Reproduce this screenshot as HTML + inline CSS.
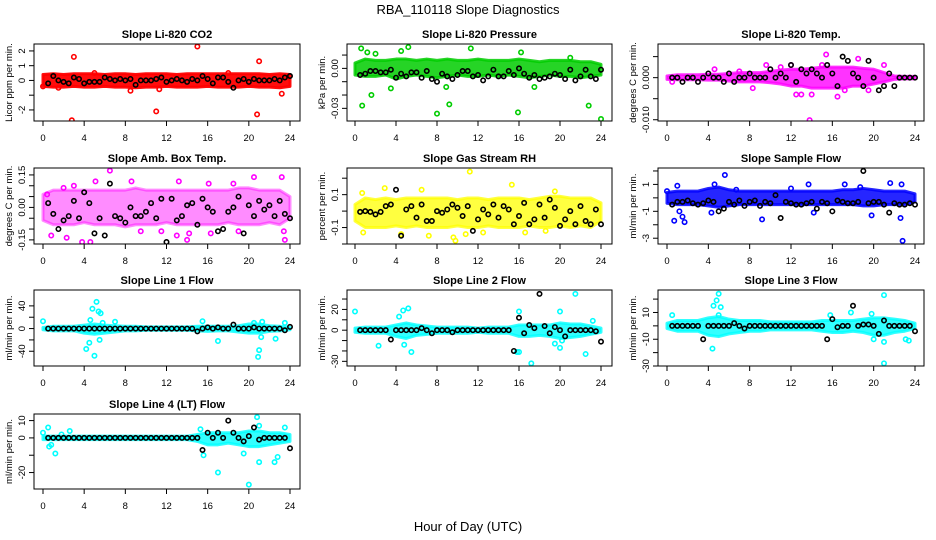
<!DOCTYPE html>
<html><head><meta charset="utf-8"><style>
body{margin:0;background:#fff}
svg{display:block;font-family:"Liberation Sans",sans-serif}
</style></head><body>
<svg id="chart" width="936" height="540" viewBox="0 0 936 540">
<text x="468" y="14" text-anchor="middle" font-size="13">RBA_110118  Slope Diagnostics</text>
<text x="468" y="531" text-anchor="middle" font-size="13">Hour of Day (UTC)</text>
</svg>
<script>
// ---- data ----
const xTicks = [0,4,8,12,16,20,24];
const titles = ["Slope Li-820 CO2","Slope Li-820 Pressure","Slope Li-820 Temp.","Slope Amb. Box Temp.","Slope Gas Stream RH","Slope Sample Flow","Slope Line 1 Flow","Slope Line 2 Flow","Slope Line 3 Flow","Slope Line 4 (LT) Flow"];
const yTitles = ["Licor ppm per min.","kPa per min.","degrees C per min.","degrees C per min.","percent per min.","ml/min per min.","ml/min per min.","ml/min per min.","ml/min per min.","ml/min per min."];
const colors = ["#ff0000","#00cd00","#ff00ff","#ff00ff","#ffff00","#0000ff","#00ffff","#00ffff","#00ffff","#00ffff"];
const yRanges = [[-2.75,2.47],[-0.0395,0.0183],[-0.0103,0.008],[-0.169,0.182],[-0.2,0.262],[-3.43,2.22],[-66,68],[-34.5,38.7],[-30,26.8],[-29.5,13.8]];
const yTickVals = [[-2,-1,0,1,2],[-0.03,-0.02,-0.01,0,0.01],[-0.01,-0.005,0,0.005],[-0.15,-0.1,-0.05,0,0.05,0.1,0.15],[-0.2,-0.1,0,0.1,0.2],[-3,-2,-1,0,1,2],[-40,-20,0,20,40],[-30,-20,-10,0,10,20,30],[-30,-20,-10,0,10,20],[-20,-10,0,10]];
const yTickLabels = [["-2","","0","1","2"],["-0.03","","","0.00",""],["-0.010","","0.000",""],["-0.15","","","0.00","","","0.15"],["","-0.1","","0.1",""],["-3","","-1","","1",""],["-40","","0","","40"],["-30","","","0","","20",""],["-30","","-10","","10",""],["-20","","0","10"]];

const co2BandLo = [-0.4,-0.45,-0.45,-0.4,-0.45,-0.45,-0.4,-0.45,-0.45,-0.5,-0.45,-0.45,-0.4,-0.45,-0.45,-0.45,-0.4,-0.45,-0.45,-0.45,-0.4,-0.45,-0.45,-0.5,-0.4];
const co2BandHi = [0.4,0.45,0.4,0.45,0.45,0.45,0.4,0.45,0.45,0.4,0.45,0.45,0.45,0.4,0.45,0.45,0.45,0.45,0.45,0.45,0.45,0.45,0.4,0.45,0.4];
const co2Out = [[2.8,-2.7],[3,1.6],[11,-2.1],[15,2.3],[20.8,-2.3],[21,1.3],[23.2,-0.9],[8.5,-0.7],[1.5,-0.5],[5,0.5],[0,-0.4],[11.3,-0.6],[18,0.5]];
const co2Black = [-0.2,0.3,0,-0.1,-0.2,0.2,0.1,-0.2,-0.1,-0.1,-0.1,0.2,0.1,0,0.1,0,0.1,-0.3,0,0,0,0.1,0.2,-0.1,0,0.1,0,-0.1,0.1,0,0.3,0.1,-0.2,0.2,0.2,-0.1,-0.5,0,0.1,-0.1,0.1,0,0,0,0.1,0,0.2,0.3];

const presBandLo = [-0.005,-0.006,-0.006,-0.005,-0.008,-0.006,-0.005,-0.006,-0.007,-0.006,-0.005,-0.006,-0.006,-0.005,-0.006,-0.005,-0.006,-0.007,-0.006,-0.005,-0.006,-0.006,-0.007,-0.006,-0.005];
const presBandHi = [0.004,0.007,0.006,0.006,0.007,0.007,0.006,0.007,0.006,0.007,0.006,0.006,0.007,0.006,0.006,0.006,0.007,0.006,0.005,0.006,0.006,0.006,0.005,0.005,0.003];
const presOut = [[0.6,0.015],[0.7,-0.028],[1.6,-0.02],[5.2,0.016],[4.5,0.013],[8,-0.034],[9.2,-0.027],[11.3,0.015],[15.9,-0.033],[16.2,0.012],[22.8,-0.028],[24,-0.038],[3.5,-0.015],[17.5,-0.014],[1.2,0.012],[2,0.011],[8.9,-0.014],[21,0.008]];
const presBlack = [-0.005,-0.004,-0.002,-0.002,-0.003,-0.003,-0.001,-0.007,-0.004,-0.006,-0.003,-0.003,-0.007,-0.002,-0.008,-0.01,-0.004,-0.006,-0.008,-0.005,-0.002,-0.002,-0.006,-0.005,-0.009,-0.006,-0.001,-0.006,-0.006,-0.002,-0.005,0,-0.004,-0.007,-0.005,-0.008,-0.007,-0.006,-0.004,-0.005,-0.008,-0.001,-0.009,-0.006,-0.001,-0.006,-0.008,-0.001];

const tempBandLo = [-0.0004,-0.0005,-0.0005,-0.0005,-0.0006,-0.0006,-0.0008,-0.001,-0.001,-0.001,-0.0012,-0.0015,-0.002,-0.002,-0.0025,-0.0025,-0.0025,-0.0025,-0.002,-0.002,-0.0015,-0.001,-0.0004,-0.0003,-0.0003];
const tempBandHi = [0.0004,0.0007,0.0007,0.0007,0.0008,0.0008,0.001,0.0012,0.0012,0.0012,0.0015,0.0018,0.002,0.002,0.0022,0.0025,0.0025,0.0025,0.0025,0.0022,0.002,0.0012,0.0004,0.0003,0.0003];
const tempOut = [[13.8,-0.0101],[15.4,0.0055],[14,-0.004],[12.5,-0.004],[13,-0.004],[16.5,-0.0045],[18.5,0.0045],[9.6,0.003],[0.5,-0.001],[4.6,0.002],[8.3,-0.0025],[17.2,-0.003],[11,0.0025],[21,0.003],[12,0.003],[15,0.003],[19.5,-0.003],[7,0.0015]];
const tempBlack = [0,0,-0.001,0,0,-0.001,0,0.001,0,0,-0.001,0.001,-0.001,0,0,0.001,0,0,0,0.002,0,0.001,0,0.003,-0.001,0.002,0.001,0.002,0.001,0,0.003,0.001,-0.002,0.005,0.004,0.001,0,-0.002,0.004,0,-0.003,-0.002,0.001,-0.002,0,0,0,0];

const ambBandLo = [-0.06,-0.08,-0.08,-0.08,-0.07,-0.08,-0.08,-0.08,-0.09,-0.08,-0.08,-0.08,-0.07,-0.08,-0.08,-0.08,-0.08,-0.08,-0.07,-0.08,-0.08,-0.08,-0.07,-0.08,-0.05];
const ambBandHi = [0.06,0.08,0.08,0.08,0.08,0.08,0.08,0.08,0.08,0.09,0.08,0.08,0.08,0.08,0.08,0.08,0.08,0.08,0.08,0.09,0.09,0.08,0.08,0.08,0.05];
const ambOut = [[0.4,0.06],[0.8,-0.13],[2,0.09],[2.3,-0.14],[3.8,-0.16],[4.6,-0.16],[5.1,0.12],[6.5,0.17],[8.6,0.12],[13,-0.13],[13.2,0.12],[14,-0.15],[14.2,-0.12],[16.1,0.11],[16.3,-0.12],[18.5,0.11],[20.5,0.14],[23.2,0.14],[23.5,-0.15],[23.4,-0.11],[9.5,-0.11],[11.5,-0.11],[3,0.1],[19,-0.11]];
const ambBlack = [0.02,-0.03,-0.1,-0.06,-0.04,0.03,-0.05,0.07,0.02,-0.12,-0.05,-0.13,0.11,-0.04,-0.05,-0.07,0,-0.04,-0.04,-0.02,0.02,-0.05,0.04,-0.16,0.04,-0.06,-0.04,0.01,0.02,-0.08,0.04,0,-0.02,-0.11,-0.1,-0.02,0,0.05,-0.12,0.01,-0.04,0.03,-0.01,0.01,-0.04,0.03,-0.03,-0.05];

const rhBandLo = [-0.06,-0.1,-0.1,-0.1,-0.09,-0.1,-0.09,-0.1,-0.1,-0.1,-0.09,-0.1,-0.1,-0.09,-0.1,-0.1,-0.1,-0.09,-0.1,-0.1,-0.09,-0.1,-0.09,-0.1,-0.06];
const rhBandHi = [0.04,0.08,0.07,0.08,0.07,0.08,0.08,0.08,0.08,0.08,0.07,0.08,0.08,0.07,0.08,0.08,0.08,0.07,0.08,0.09,0.09,0.08,0.08,0.08,0.05];
const rhOut = [[11.2,0.24],[9.8,-0.18],[9.6,-0.16],[7.2,-0.15],[16.6,-0.13],[18.6,-0.12],[0.8,-0.13],[2.9,0.14],[15.3,0.16],[4.5,-0.14],[0.7,0.11],[6.5,0.13],[10.8,-0.14],[12.5,-0.13],[19.5,0.12]];
const rhBlack = [-0.005,0,-0.005,-0.02,-0.005,0.03,0.04,0.13,-0.15,0.01,0.03,-0.04,0.04,-0.06,-0.06,0,-0.01,0.01,0.04,0.02,-0.03,0.03,-0.12,-0.05,0.01,-0.02,0.04,-0.04,0.03,0.01,-0.08,-0.03,0.05,-0.08,-0.05,0.04,-0.04,0.07,0.02,-0.09,-0.05,0,-0.08,0.03,-0.06,-0.08,0.01,-0.08];

const flowBandLo = [-0.4,-0.5,-0.5,-0.5,-0.6,-0.7,-0.6,-0.5,-0.5,-0.5,-0.5,-0.5,-0.5,-0.5,-0.5,-0.5,-0.5,-0.5,-0.5,-0.6,-0.6,-0.5,-0.5,-0.5,-0.3];
const flowBandHi = [0.4,0.5,0.5,0.5,0.7,0.8,0.6,0.5,0.5,0.5,0.5,0.5,0.5,0.5,0.5,0.5,0.5,0.6,0.6,0.7,0.6,0.5,0.5,0.5,0.3];
const flowOut = [[0.7,-1.7],[1,0.9],[1.5,-1.4],[1.7,-1.8],[5.6,1.7],[9.2,-1.6],[13.7,1],[14.2,-1.1],[17.2,1],[19.8,-1.3],[21.6,1.1],[22.6,-1.5],[22.7,1],[22.8,-3.2],[4.3,-1.1],[4.6,1],[0,0.5],[1.2,-1],[6.7,0.6],[12,0.7],[18.7,0.8]];
const flowBlack = [-0.5,-0.3,-0.3,-0.2,-0.4,-0.5,-0.4,-0.2,-0.3,-1,-0.8,-0.3,-0.5,-0.2,-0.6,-0.3,-0.2,-0.6,-0.3,-0.4,0.2,-1.5,-0.3,-0.4,-0.5,-0.5,-0.4,-0.3,-0.8,-0.3,-0.4,-1,-0.2,-0.3,-0.4,-0.4,-0.3,2,-0.4,-0.3,-0.3,-0.5,-1.1,-0.4,-0.5,-0.5,-0.4,-0.5];

const l1BandLo = [-2,-4,-4,-4,-8,-10,-8,-6,-4,-4,-3,-3,-3,-3,-3,-4,-5,-4,-4,-6,-8,-8,-5,-4,-2];
const l1BandHi = [2,4,4,4,6,8,6,5,4,4,3,3,3,3,3,4,4,4,4,5,8,8,5,4,2];
const l1Out = [[0,13],[4.2,-36],[4.5,-25],[4.8,35],[5,-48],[5.2,47],[5.4,30],[5.6,27],[5.5,-20],[15.5,13],[17,-22],[20.9,-50],[21,-38],[21.2,-15],[22.6,-18],[23.5,10],[7,12],[4.6,15],[5.8,10],[20.5,10],[21.3,12]];
const l1Black = [0,0,0,0,0,0,0,0,0,0,0,0,0,0,0,0,0,0,0,0,0,0,0,0,0,0,0,0,0,-5,0,2,0,2,0,0,7,0,0,0,2,0,0,0,0,0,-3,3];

const l2BandLo = [-2,-3,-3,-3,-6,-8,-5,-4,-3,-3,-3,-3,-2,-3,-3,-3,-6,-6,-5,-6,-8,-7,-6,-4,-2];
const l2BandHi = [2,3,3,3,5,7,5,4,3,3,3,3,2,3,3,3,5,5,5,5,7,6,6,4,2];
const l2Out = [[0,18],[2.3,-15],[4.3,13],[4.7,19],[5.2,21],[4.8,-14],[5.5,-21],[16,18],[17.2,-32],[16,-21],[20,18],[21.5,35],[22.5,-23],[19.5,-13],[20,-17],[15.8,-21],[20.2,-10],[23.2,9]];
const l2Black = [0,0,0,0,0,0,-9,0,0,0,0,0,2,0,-3,0,0,0,-2,0,0,0,0,0,0,0,0,0,0,0,-20,12,-3,5,2,35,4,-3,3,0,-6,0,0,0,0,0,-1,-11];

const l3BandLo = [-2,-4,-4,-4,-7,-8,-6,-5,-4,-4,-3,-3,-3,-3,-3,-4,-5,-5,-4,-5,-7,-7,-5,-4,-2];
const l3BandHi = [2,4,4,4,6,7,5,4,4,4,3,3,3,3,3,4,4,4,4,5,6,6,5,4,2];
const l3Out = [[0.5,8],[4.5,15],[4.8,19],[5,24],[5.2,14],[4.4,-17],[21,-28],[21,23],[21,-12],[20,-10],[23.4,-11],[23.1,-10],[15.8,8],[17.8,10],[19.8,9],[5,8]];
const l3Black = [0,0,0,0,0,0,-10,0,0,0,0,0,2,0,-2,0,0,0,0,0,0,0,0,0,0,0,0,0,0,0,-10,5,-1,0,0,15,0,1,1,0,-6,4,0,0,0,0,0,-4];

const l4BandLo = [-1,-1,-1,-1,-1,-1,-1,-1,-1,-1,-1,-1,-1,-1,-1,-2,-4,-4,-3,-4,-5,-5,-4,-3,-2];
const l4BandHi = [1,1,1,1,1,1,1,1,1,1,1,1,1,1,1,2,3,3,3,3,4,4,3,3,2];
const l4Out = [[0.5,6],[0.6,-5],[1.2,-9],[1.8,2],[2.6,4],[15.3,5],[15.6,-10],[17,-20],[19.5,-9],[20,-27],[20.8,12],[21,-14],[21,7],[22.5,-14],[22.8,-11],[23.5,6],[0,3],[0.8,-4]];
const l4Black = [0,0,0,0,0,0,0,0,0,0,0,0,0,0,0,0,0,0,0,0,0,0,0,0,0,0,0,0,0,0,-7,3,0,3,0,10,3,0,-2,1,6,-1,0,0,0,0,0,-6];

const bandLos = [co2BandLo,presBandLo,tempBandLo,ambBandLo,rhBandLo,flowBandLo,l1BandLo,l2BandLo,l3BandLo,l4BandLo];
const bandHis = [co2BandHi,presBandHi,tempBandHi,ambBandHi,rhBandHi,flowBandHi,l1BandHi,l2BandHi,l3BandHi,l4BandHi];
const outliers = [co2Out,presOut,tempOut,ambOut,rhOut,flowOut,l1Out,l2Out,l3Out,l4Out];
const blacks = [co2Black,presBlack,tempBlack,ambBlack,rhBlack,flowBlack,l1Black,l2Black,l3Black,l4Black];

// ---- layout / style ----
const bandOpacity = [0.95,0.85,0.8,0.45,0.75,0.85,0.8,0.8,0.8,0.8];
const colBox = [[34,300],[347,612],[658,924]];
const colX = [[43,290],[355,601],[667,915]];
const rowBox = [[44,121],[168,244],[290,366],[414,489]];
const NS = "http://www.w3.org/2000/svg";
const svg = document.getElementById('chart');
function mk(tag, attrs, parent){const e=document.createElementNS(NS,tag);for(const k in attrs)e.setAttribute(k,attrs[k]);(parent||svg).appendChild(e);return e;}

titles.forEach((title,p)=>{
  const c=p%3, r=Math.floor(p/3);
  const [L,R]=colBox[c], [T,B]=rowBox[r];
  const xs=h=>colX[c][0]+(colX[c][1]-colX[c][0])*h/24;
  const [y0,y1]=yRanges[p];
  const ys=v=>B-(v-y0)/(y1-y0)*(B-T);
  const g=mk('g',{});
  
  
  const clipId='clip'+p;
  const cp=mk('clipPath',{id:clipId},g); mk('rect',{x:L,y:T,width:R-L,height:B-T},cp);
  const plot=mk('g',{'clip-path':'url(#'+clipId+')'},g);
  const lo=bandLos[p], hi=bandHis[p];
  let pts=[];
  hi.forEach((v,i)=>pts.push(xs(i*24/(hi.length-1))+','+ys(v)));
  for(let i=lo.length-1;i>=0;i--) pts.push(xs(i*24/(lo.length-1))+','+ys(lo[i]));
  const band=mk('polygon',{points:pts.join(' '),fill:colors[p],'fill-opacity':bandOpacity[p],stroke:colors[p],'stroke-opacity':bandOpacity[p],'stroke-width':3,'stroke-linejoin':'round'},plot);
  
  
  outliers[p].forEach(([h,v])=>{
    const ci=mk('circle',{cx:xs(h),cy:ys(v),r:2.2,fill:'none',stroke:colors[p],'stroke-width':1.6},plot);
    
    
  });
  const bl=blacks[p];
  bl.forEach((v,i)=>{
    const ci=mk('circle',{cx:xs((i+1)*24/bl.length),cy:ys(v),r:2.2,fill:'none',stroke:'#000','stroke-width':1.6},plot);
    
    
  });
  mk('rect',{x:L,y:T,width:R-L,height:B-T,fill:'none',stroke:'#000','stroke-width':1},g);
  const t=mk('text',{x:(L+R)/2,y:T-6,'text-anchor':'middle','font-size':11,'font-weight':'bold'},g);
  t.textContent=title;
  
  
  mk('line',{x1:xs(0),x2:xs(24),y1:B,y2:B,stroke:'#000'},g);
  xTicks.forEach(h=>{
    mk('line',{x1:xs(h),x2:xs(h),y1:B,y2:B+5,stroke:'#000'},g);
    const tl=mk('text',{x:xs(h),y:B+20,'text-anchor':'middle','font-size':9.5},g);
    tl.textContent=h;
    
    
  });
  yTickVals[p].forEach((v,i)=>{
    mk('line',{x1:L-5,x2:L,y1:ys(v),y2:ys(v),stroke:'#000'},g);
    const lab=yTickLabels[p][i];
    if(lab){
      const tl=mk('text',{x:L-9,y:ys(v),'text-anchor':'middle','font-size':9.5,transform:'rotate(-90 '+(L-9)+' '+ys(v)+')'},g);
      tl.textContent=lab;
      
      
    }
  });
  const yl=mk('text',{x:L-22,y:(T+B)/2,'text-anchor':'middle','font-size':9.5,transform:'rotate(-90 '+(L-22)+' '+((T+B)/2)+')'},g);
  yl.textContent=yTitles[p];
  
  
});
</script>
</body></html>
